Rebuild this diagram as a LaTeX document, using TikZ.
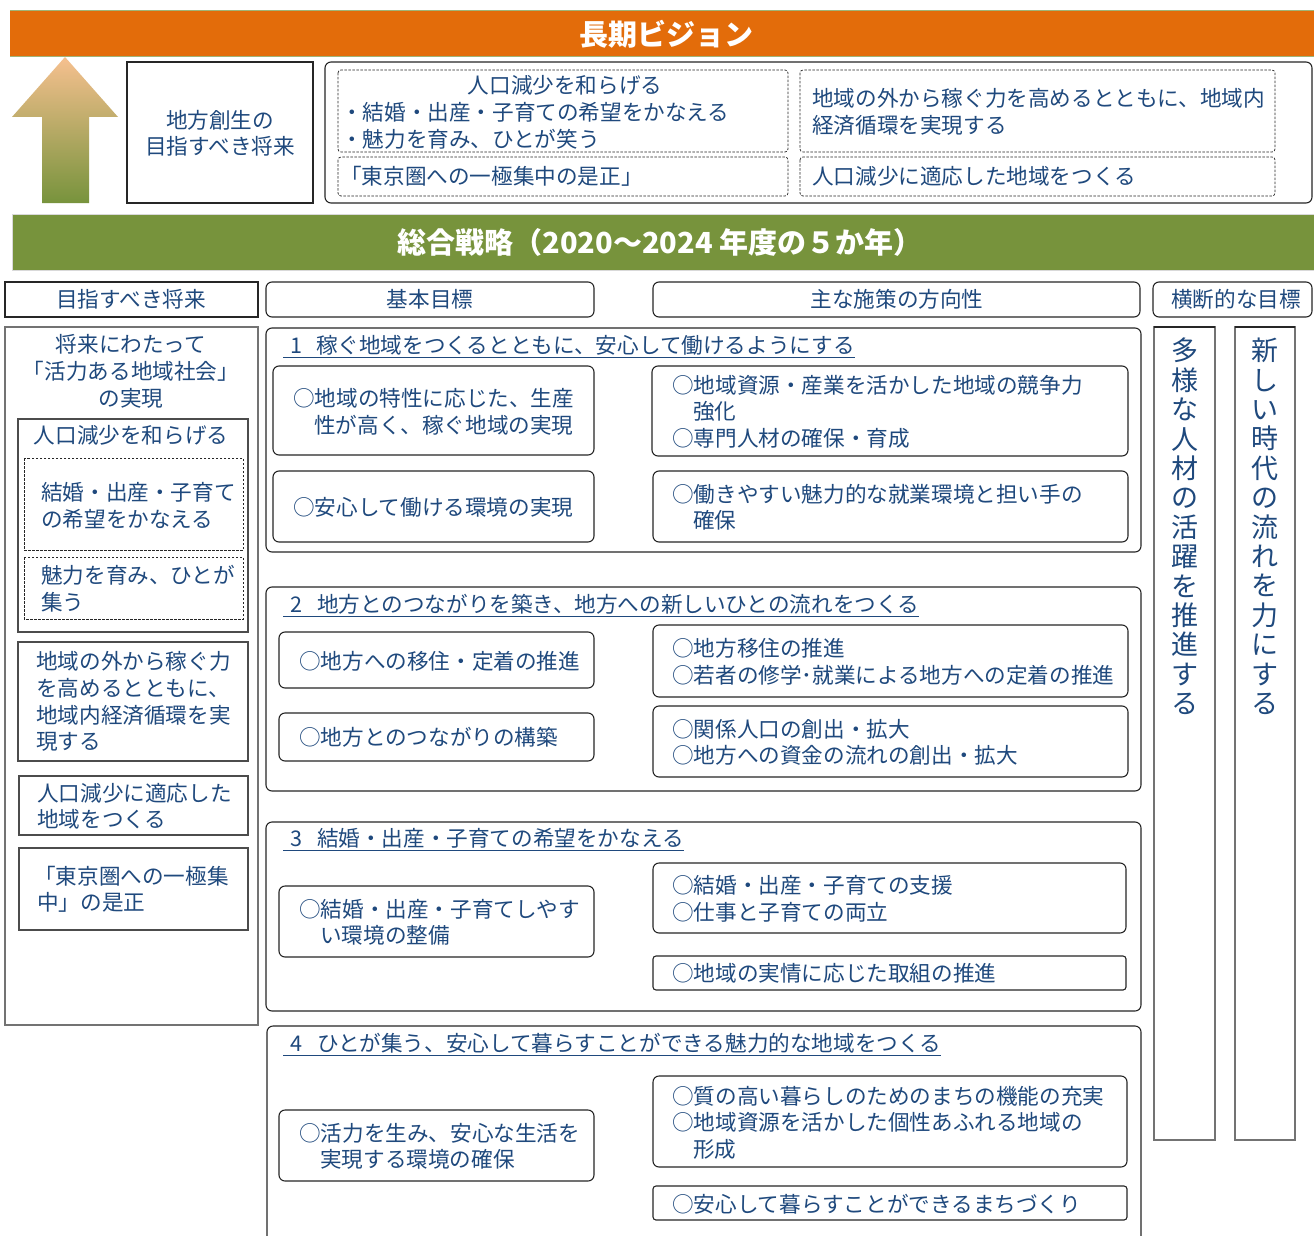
\documentclass[tikz,border=0pt]{standalone}
\usepackage{fontspec}
\setmainfont{Noto Sans CJK JP}
\definecolor{navy}{HTML}{1F497D}
\definecolor{orangebar}{HTML}{E36C0A}
\definecolor{greenbar}{HTML}{77933C}
\definecolor{peach}{HTML}{F6C08F}
\begin{document}
\begin{tikzpicture}[x=1pt,y=-1pt,
  bx/.style={draw=black!85, line width=1.1pt},
  rbx/.style={bx, rounded corners=6pt},
  gbx/.style={draw=black!55, line width=1.1pt},
  dbx/.style={draw=black!85, line width=0.7pt, dash pattern=on 2.5pt off 1.5pt, rounded corners=3pt},
  t/.style={inner sep=0pt, anchor=west, text=navy, font=\fontsize{21.6}{27}\selectfont, text height=19pt, text depth=2.6pt},
  tc/.style={t, anchor=center},
  vt/.style={inner sep=0pt, anchor=north, align=center, text=navy, font=\fontsize{27}{29.4}\selectfont},
  big/.style={inner sep=0pt, anchor=center, text=white, font=\fontsize{29}{30}\selectfont\bfseries, text height=25.5pt, text depth=3.5pt},
  uline/.style={draw=navy, line width=1.1pt}
]
\useasboundingbox (0,0) rectangle (1314,1236);
\fill[white] (0,0) rectangle (1314,1236);

% ---------- long vision bar ----------
\fill[orangebar] (10,10) rectangle (1314,56);
\draw[greenbar!70, line width=0.8pt] (10,10) -- (1314,10) (10,56) -- (1314,56);
\node[big] (vision) at (666,35) {長期ビジョン};

% arrow
\shade[top color=peach, bottom color=greenbar]
  (65,57) -- (118,117) -- (89,117) -- (89,203) -- (42,203) -- (42,117) -- (12,117) -- cycle;

% future box
\draw[bx] (127,62) rectangle (313,203);
\node[tc] (fa1) at (220,120) {地方創生の};
\node[tc] (fa2) at (220,146) {目指すべき将来};

% rounded container
\draw[rbx] (325,62) rectangle (1312,203);
\draw[dbx] (338,70) rectangle (788,152);
\draw[dbx] (338,157) rectangle (788,196);
\draw[dbx] (800,70) rectangle (1275,152);
\draw[dbx] (800,157) rectangle (1275,196);
\node[tc] (va1) at (565,85) {人口減少を和らげる};
\node[t] (va2) at (341,112) {・結婚・出産・子育ての希望をかなえる};
\node[t] (va3) at (341,139) {・魅力を育み、ひとが笑う};
\node[t] (va4) at (340,176) {「東京圏への一極集中の是正」};
\node[t] (vb1) at (812,98) {地域の外から稼ぐ力を高めるとともに、地域内};
\node[t] (vb2) at (812,125) {経済循環を実現する};
\node[t] (vb3) at (812,176) {人口減少に適応した地域をつくる};

% ---------- strategy bar ----------
\fill[greenbar] (12,214) rectangle (1314,270);
\draw[black!15, line width=0.8pt] (12,214) -- (1314,214) (12,270) -- (1314,270) (12,214) -- (12,270);
\node[big] (strategy) at (660,242) {総合戦略（2020～2024 年度の５か年）};

% ---------- headers ----------
\draw[bx] (5,282) rectangle (258,317);
\draw[rbx] (266,282) rectangle (594,317);
\draw[rbx] (653,282) rectangle (1140,317);
\draw[rbx] (1153,282) rectangle (1312,317);
\node[tc] (h1) at (131,299) {目指すべき将来};
\node[tc] (h2) at (430,299) {基本目標};
\node[tc] (h3) at (897,299) {主な施策の方向性};
\node[tc] (h4) at (1236,299) {横断的な目標};

% ---------- left column ----------
\draw[gbx] (5,327) rectangle (258,1025);
\node[tc] (l1) at (131,344) {将来にわたって};
\node[tc] (l2) at (131,371) {「活力ある地域社会」};
\node[tc] (l3) at (131,398) {の実現};
\draw[bx, draw=black!70] (18,419) rectangle (248,632);
\node[tc] (l4) at (131,435) {人口減少を和らげる};
\draw[dbx, rounded corners=0pt] (24,458) rectangle (243,550);
\node[t] (l5) at (41,492) {結婚・出産・子育て};
\node[t] (l6) at (41,519) {の希望をかなえる};
\draw[dbx, rounded corners=0pt] (24,557) rectangle (243,619);
\node[t] (l7) at (41,575) {魅力を育み、ひとが};
\node[t] (l8) at (41,602) {集う};
\draw[bx, draw=black!70] (18,642) rectangle (248,761);
\node[t] (l9) at (36,661) {地域の外から稼ぐ力};
\node[t] (l10) at (36,688) {を高めるとともに、};
\node[t] (l11) at (36,715) {地域内経済循環を実};
\node[t] (l12) at (36,741) {現する};
\draw[bx, draw=black!70] (19,776) rectangle (248,835);
\node[t] (l13) at (37,793) {人口減少に適応した};
\node[t] (l14) at (37,819) {地域をつくる};
\draw[bx, draw=black!70] (19,848) rectangle (248,930);
\node[t] (l15) at (34,876) {「東京圏への一極集};
\node[t] (l16) at (37,902) {中」の是正};

% ---------- section 1 ----------
\draw[rbx] (266,328) rectangle (1141,552);
\node[t] (s1) at (290,345) {1\hspace{14pt}稼ぐ地域をつくるとともに、安心して働けるようにする};
\draw[uline] ([xshift=-7pt,yshift=-1.5pt]s1.south west) -- ([yshift=-1.5pt]s1.south east);
\draw[rbx] (273,366) rectangle (594,455);
\node[t] (a1) at (293,398) {○地域の特性に応じた、生産};
\node[t] (a2) at (314,425) {性が高く、稼ぐ地域の実現};
\draw[rbx] (273,471) rectangle (594,542);
\node[t] (a3) at (293,507) {○安心して働ける環境の実現};
\draw[rbx] (652,366) rectangle (1128,456);
\node[t] (a4) at (672,385) {○地域資源・産業を活かした地域の競争力};
\node[t] (a5) at (693,411) {強化};
\node[t] (a6) at (672,438) {○専門人材の確保・育成};
\draw[rbx] (653,471) rectangle (1128,542);
\node[t] (a7) at (672,494) {○働きやすい魅力的な就業環境と担い手の};
\node[t] (a8) at (693,520) {確保};

% ---------- section 2 ----------
\draw[rbx] (266,587) rectangle (1141,791);
\node[t] (s2) at (290,604) {2\hspace{15pt}地方とのつながりを築き、地方への新しいひとの流れをつくる};
\draw[uline] ([xshift=-7pt,yshift=-1.5pt]s2.south west) -- ([yshift=-1.5pt]s2.south east);
\draw[rbx] (279,632) rectangle (594,688);
\node[t] (b1) at (299,661) {○地方への移住・定着の推進};
\draw[rbx] (279,713) rectangle (594,761);
\node[t] (b2) at (299,737) {○地方とのつながりの構築};
\draw[rbx] (653,625) rectangle (1128,697);
\node[t] (b3) at (672,648) {○地方移住の推進};
\node[t] (b4) at (672,675) {○若者の修学･就業による地方への定着の推進};
\draw[rbx] (653,706) rectangle (1128,777);
\node[t] (b5) at (672,729) {○関係人口の創出・拡大};
\node[t] (b6) at (672,755) {○地方への資金の流れの創出・拡大};

% ---------- section 3 ----------
\draw[rbx] (266,822) rectangle (1141,1011);
\node[t] (s3) at (290,838) {3\hspace{15pt}結婚・出産・子育ての希望をかなえる};
\draw[uline] ([xshift=-7pt,yshift=-1.5pt]s3.south west) -- ([yshift=-1.5pt]s3.south east);
\draw[rbx] (279,886) rectangle (594,957);
\node[t] (c1) at (299,909) {○結婚・出産・子育てしやす};
\node[t] (c2) at (320,935) {い環境の整備};
\draw[rbx] (653,863) rectangle (1126,933);
\node[t] (c3) at (672,885) {○結婚・出産・子育ての支援};
\node[t] (c4) at (672,912) {○仕事と子育ての両立};
\draw[rbx, rounded corners=3pt] (653,956) rectangle (1126,990);
\node[t] (c5) at (672,973) {○地域の実情に応じた取組の推進};

% ---------- section 4 (bottom cut off) ----------
\draw[rbx] (267,1240) -- (267,1026) -- (1141,1026) -- (1141,1240);
\node[t] (s4) at (290,1043) {4\hspace{15pt}ひとが集う、安心して暮らすことができる魅力的な地域をつくる};
\draw[uline] ([xshift=-7pt,yshift=-1.5pt]s4.south west) -- ([yshift=-1.5pt]s4.south east);
\draw[rbx] (279,1110) rectangle (594,1181);
\node[t] (d1) at (299,1133) {○活力を生み、安心な生活を};
\node[t] (d2) at (320,1159) {実現する環境の確保};
\draw[rbx] (653,1076) rectangle (1127,1167);
\node[t] (d3) at (672,1096) {○質の高い暮らしのためのまちの機能の充実};
\node[t] (d4) at (672,1122) {○地域資源を活かした個性あふれる地域の};
\node[t] (d5) at (693,1149) {形成};
\draw[rbx, rounded corners=3pt] (653,1186) rectangle (1127,1220);
\node[t] (d6) at (672,1204) {○安心して暮らすことができるまちづくり};

% ---------- cross-cutting columns ----------
\draw[gbx] (1154,327) rectangle (1215,1140);
\draw[black!85, line width=1.1pt] (1154,327) -- (1215,327);
\draw[gbx] (1235,327) rectangle (1295,1140);
\draw[black!85, line width=1.1pt] (1235,327) -- (1295,327);
\node[vt] (x1) at (1185,338) {多\\様\\な\\人\\材\\の\\活\\躍\\を\\推\\進\\す\\る};
\node[vt] (x2) at (1265,338) {新\\し\\い\\時\\代\\の\\流\\れ\\を\\力\\に\\す\\る};
\end{tikzpicture}
\end{document}
